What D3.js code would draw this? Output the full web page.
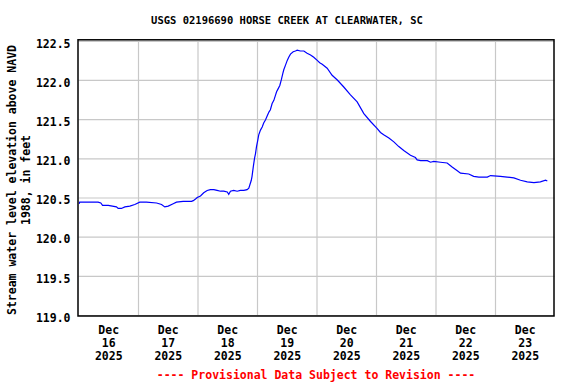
<!DOCTYPE html>
<html>
<head>
<meta charset="utf-8">
<script src="https://cdn.jsdelivr.net/npm/d3@7"></script>
<style>
  body { margin: 0; background: #fff; }
  svg text { font-family: "DejaVu Sans Mono", monospace; font-weight: bold; }
</style>
</head>
<body>
<script>
/* data: hours after Dec 16 2025 00:00, stage in feet */
let hoursFromStart = [
  0.3, 0.5, 5.9, 7.9, 9.0, 9.7, 12.0, 15.3, 16.0, 17.3, 18.7, 20.7, 22.7, 24.7, 27.4,
  31.5, 33.5, 34.8, 36.2, 38.2, 39.5, 42.2, 45.6, 46.3, 47.2, 47.9, 49.2, 50.5, 51.9,
  53.2, 54.6, 55.9, 57.3, 58.6, 60.0, 60.6, 61.3, 62.6, 64.0, 65.3, 66.7, 68.0, 68.7,
  69.1, 69.7, 70.0, 70.5, 71.0, 71.4, 71.8, 72.3, 72.7, 73.4, 74.1, 74.7, 75.4, 76.1,
  76.8, 77.4, 78.1, 78.8, 79.5, 79.9, 80.4, 81.2, 81.8, 82.4, 82.8, 83.5, 84.2, 84.8,
  85.5, 86.6, 87.5, 88.2, 89.5, 90.9, 92.2, 93.6, 94.9, 96.3, 97.3, 98.3, 100.3, 102.3,
  104.4, 107.0, 109.7, 112.4, 115.1, 117.8, 120.5, 121.8, 123.1, 125.2, 127.2, 129.2,
  131.2, 133.9, 135.9, 136.6, 138.0, 140.7, 142.0, 143.3, 146.0, 148.7, 150.7, 152.8,
  154.1, 157.4, 159.4, 161.5, 164.9, 166.2, 170.2, 172.9, 175.6, 178.3, 181.0, 183.7,
  186.3, 188.4, 189.1
];
let stageFeet = [
  120.42, 120.44, 120.44, 120.44, 120.43, 120.40, 120.40, 120.38, 120.36, 120.36, 120.38, 120.39, 120.41, 120.44, 120.44,
  120.43, 120.41, 120.38, 120.39, 120.42, 120.44, 120.45, 120.45, 120.46, 120.48, 120.50, 120.52, 120.56, 120.59,
  120.60, 120.60, 120.59, 120.58, 120.58, 120.57, 120.54, 120.58, 120.59, 120.58, 120.59, 120.59, 120.60, 120.62,
  120.66, 120.72, 120.77, 120.89, 121.00, 121.06, 121.15, 121.23, 121.30, 121.36, 121.40, 121.45, 121.49, 121.54,
  121.59, 121.62, 121.70, 121.74, 121.81, 121.85, 121.88, 121.93, 122.00, 122.08, 122.13, 122.19, 122.25, 122.29,
  122.33, 122.36, 122.37, 122.38, 122.37, 122.37, 122.34, 122.32, 122.29, 122.25, 122.22, 122.20, 122.15, 122.06,
  122.00, 121.91, 121.81, 121.72, 121.57, 121.47, 121.38, 121.33, 121.30, 121.26, 121.21, 121.15,
  121.10, 121.04, 121.01, 120.98, 120.97, 120.97, 120.95, 120.96, 120.95, 120.94, 120.89, 120.84,
  120.81, 120.80, 120.77, 120.76, 120.76, 120.78, 120.77, 120.76, 120.75, 120.72, 120.70, 120.69,
  120.70, 120.72, 120.71
];
let yTicks = [119.0, 119.5, 120.0, 120.5, 121.0, 121.5, 122.0, 122.5];
let dayLabels = ["Dec 16 2025", "Dec 17 2025", "Dec 18 2025", "Dec 19 2025",
  "Dec 20 2025", "Dec 21 2025", "Dec 22 2025", "Dec 23 2025"];
let titleText = "USGS 02196690 HORSE CREEK AT CLEARWATER, SC";
let yLabelLines = ["Stream water level elevation above NAVD", "1988, in feet"];
let footerText = "---- Provisional Data Subject to Revision ----";

let width = 576;
let height = 384;
let plotLeft = 78.5, plotRight = 554.5, plotTop = 40.8, plotBottom = 315;

let start = new Date(2025, 11, 16);
let end = new Date(2025, 11, 24);
let data = hoursFromStart.map((h, i) => ({
  date: new Date(start.getTime() + h * 3600e3),
  value: stageFeet[i]
}));

let svg = d3.select("body").append("svg")
  .attr("width", width)
  .attr("height", height);

/* scales */
let x = d3.scaleTime().domain([start, end]).range([plotLeft, plotRight]);
let y = d3.scaleLinear().domain([119, 122.5]).range([plotBottom, plotTop]);

/* grid */
let midnights = d3.timeDay.range(d3.timeDay.offset(start, 1), end);
svg.append("g")
  .attr("class", "x-grid")
  .attr("transform", "translate(0," + plotBottom + ")")
  .call(d3.axisBottom(x).tickValues(midnights).tickSize(-(plotBottom - plotTop)).tickFormat(""))
  .call(g => g.select(".domain").remove())
  .call(g => g.selectAll("line").attr("stroke", "#c8c8c8").attr("stroke-width", 1.2));

svg.append("g")
  .attr("class", "y-axis")
  .attr("transform", "translate(" + plotLeft + ",0)")
  .call(d3.axisLeft(y).tickValues(yTicks).tickSize(-(plotRight - plotLeft)).tickPadding(8).tickFormat(d3.format(".1f")))
  .call(g => g.select(".domain").remove())
  .call(g => g.selectAll("line").attr("stroke", "#c8c8c8").attr("stroke-width", 1.2))
  .call(g => g.selectAll("text")
    .attr("dy", "0.55em")
    .attr("fill", "#000")
    .style("font-size", "11.5px"));

/* x labels at noon of each day */
let noons = dayLabels.map((d, i) => d3.timeHour.offset(d3.timeDay.offset(start, i), 12));
let xLabels = svg.append("g")
  .attr("class", "x-axis")
  .attr("transform", "translate(0," + plotBottom + ")")
  .call(d3.axisBottom(x).tickValues(noons).tickSize(0).tickFormat(""));
xLabels.select(".domain").remove();
xLabels.selectAll(".tick text")
  .attr("dy", null)
  .attr("fill", "#000")
  .style("font-size", "11.5px")
  .each(function(d, i) {
    let parts = dayLabels[i].split(" ");
    d3.select(this).selectAll("tspan")
      .data(parts)
      .join("tspan")
      .attr("x", 0)
      .attr("y", (p, j) => 19 + j * 13)
      .text(p => p);
  });

/* line */
svg.append("path")
  .datum(data)
  .attr("fill", "none")
  .attr("stroke", "#0000ff")
  .attr("stroke-width", 1.2)
  .attr("d", d3.line().x(d => x(d.date)).y(d => y(d.value)));

/* frame */
svg.append("rect")
  .attr("x", 78)
  .attr("y", 39.8)
  .attr("width", 476)
  .attr("height", 276.2)
  .attr("fill", "none")
  .attr("stroke", "#000")
  .attr("stroke-width", 1.5);

/* texts */
svg.append("text")
  .attr("x", 287)
  .attr("y", 24)
  .attr("text-anchor", "middle")
  .style("font-size", "10.5px")
  .text(titleText);

svg.append("g")
  .attr("transform", "translate(15.5,180) rotate(-90)")
  .selectAll("text")
  .data(yLabelLines)
  .join("text")
  .attr("x", 0)
  .attr("y", (d, i) => i * 14.5)
  .attr("text-anchor", "middle")
  .style("font-size", "11.5px")
  .text(d => d);

svg.append("text")
  .attr("x", 316)
  .attr("y", 379)
  .attr("text-anchor", "middle")
  .attr("fill", "#ff0000")
  .style("font-size", "11.5px")
  .text(footerText);
</script>
</body>
</html>
